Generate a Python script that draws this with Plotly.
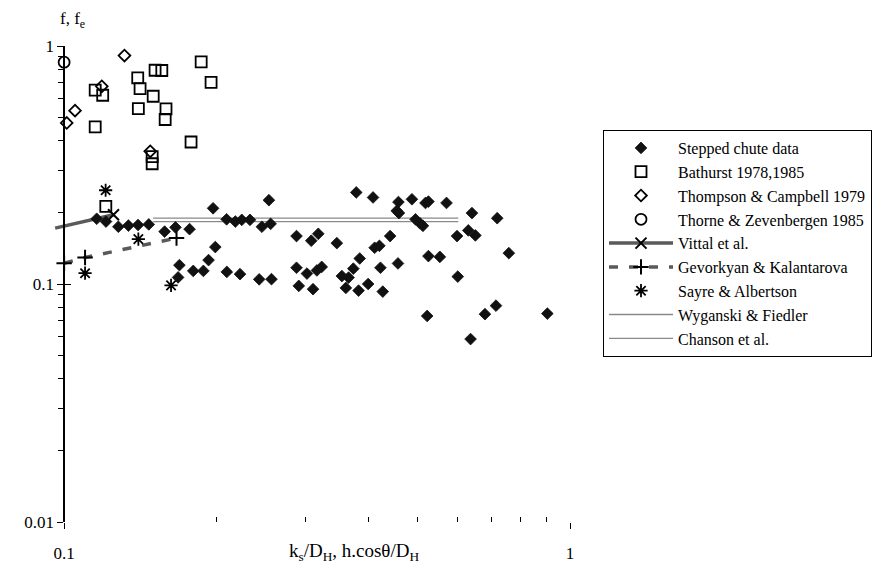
import math
import plotly.graph_objects as go

# ---------------- data ----------------
stepped_x = [0.116, 0.121, 0.128, 0.134, 0.140, 0.147, 0.158, 0.166, 0.177, 0.197,
             0.2095, 0.218, 0.2245, 0.233, 0.246, 0.256, 0.254, 0.288, 0.308, 0.318,
             0.346, 0.378, 0.408, 0.458, 0.4545, 0.459, 0.487, 0.518, 0.525, 0.570,
             0.495, 0.505, 0.512, 0.640, 0.718, 0.441, 0.411, 0.420, 0.598, 0.6295,
             0.650, 0.757, 0.525, 0.553, 0.199, 0.193, 0.1885, 0.180, 0.169, 0.168,
             0.2097, 0.2227, 0.243, 0.257, 0.288, 0.302, 0.316, 0.323, 0.291, 0.3105,
             0.354, 0.365, 0.3605, 0.384, 0.373, 0.382, 0.399, 0.422, 0.457, 0.4265,
             0.600, 0.522, 0.636, 0.679, 0.714, 0.902]
stepped_y = [0.188, 0.183, 0.174, 0.176, 0.177, 0.178, 0.166, 0.173, 0.170, 0.208,
             0.187, 0.183, 0.186, 0.186, 0.174, 0.179, 0.225, 0.159, 0.152, 0.1625,
             0.1485, 0.2425, 0.231, 0.221, 0.203, 0.1986, 0.227, 0.219, 0.222, 0.219,
             0.187, 0.180, 0.1756, 0.1986, 0.189, 0.159, 0.142, 0.1447, 0.159, 0.168,
             0.160, 0.1348, 0.131, 0.130, 0.143, 0.126, 0.1135, 0.1135, 0.120, 0.1066,
             0.1124, 0.110, 0.1046, 0.1048, 0.117, 0.1106, 0.114, 0.118, 0.0982, 0.0951,
             0.108, 0.1064, 0.0963, 0.128, 0.116, 0.0938, 0.100, 0.117, 0.122, 0.0929,
             0.1074, 0.0734, 0.0587, 0.0747, 0.0811, 0.0751]

bathurst_x = [0.1152, 0.1192, 0.1152, 0.1398, 0.1413, 0.1402, 0.1513, 0.156, 0.150,
              0.159, 0.1584, 0.1866, 0.1952, 0.1782, 0.1493, 0.1493, 0.1209]
bathurst_y = [0.652, 0.621, 0.457, 0.735, 0.662, 0.546, 0.791, 0.789, 0.615,
              0.544, 0.491, 0.858, 0.704, 0.395, 0.343, 0.320, 0.2118]

thompson_x = [0.1316, 0.1051, 0.1012, 0.1187, 0.148]
thompson_y = [0.912, 0.535, 0.475, 0.677, 0.361]

thorne_x = [0.1]
thorne_y = [0.855]

vittal_x = [0.096, 0.1252]
vittal_y = [0.1717, 0.1953]

gevorkyan_x = [0.1, 0.110, 0.1668]
gevorkyan_y = [0.1223, 0.1292, 0.1559]

sayre_x = [0.1208, 0.1402, 0.110, 0.1627]
sayre_y = [0.2477, 0.1544, 0.1110, 0.0987]

wyganski_x = [0.150, 0.6015]
wyganski_y = [0.189, 0.189]

chanson_x = [0.150, 0.6015]
chanson_y = [0.183, 0.183]

x_major = [0.1, 1]
x_major_text = ["0.1", "1"]
x_minor = [0.2, 0.3, 0.4, 0.5, 0.6, 0.7, 0.8, 0.9]
y_major = [0.01, 0.1, 1]
y_major_text = ["0.01", "0.1", "1"]
y_minor = [0.02, 0.03, 0.04, 0.05, 0.06, 0.07, 0.08, 0.09,
           0.2, 0.3, 0.4, 0.5, 0.6, 0.7, 0.8, 0.9]

# ---------------- styling ----------------
FONT = "Liberation Serif, Times New Roman, serif"
FS = 17
x_lo = math.log10(0.0955)
x_range = [x_lo, 0]
y_range = [-2, 0]
yaxis_pos = (math.log10(0.1) - x_lo) / (0 - x_lo)

fig = go.Figure()

# lines first (drawn underneath)
fig.add_trace(go.Scatter(x=wyganski_x, y=wyganski_y, mode="lines", name="Wyganski & Fiedler",
                         line=dict(color="#8a8a8a", width=1.3), legendrank=8))
fig.add_trace(go.Scatter(x=chanson_x, y=chanson_y, mode="lines", name="Chanson et al.",
                         line=dict(color="#8a8a8a", width=1.3), legendrank=9))
fig.add_trace(go.Scatter(x=vittal_x, y=vittal_y, mode="lines", showlegend=False,
                         line=dict(color="#5a5a5a", width=3.5), hoverinfo="skip"))
fig.add_trace(go.Scatter(x=vittal_x[1:], y=vittal_y[1:], mode="lines+markers", name="Vittal et al.",
                         line=dict(color="#5a5a5a", width=3.5), legendrank=5,
                         marker=dict(symbol="x-thin-open", size=11, color="black",
                                     line=dict(color="black", width=2))))
fig.add_trace(go.Scatter(x=gevorkyan_x, y=gevorkyan_y, mode="lines+markers",
                         name="Gevorkyan & Kalantarova", legendrank=6,
                         line=dict(color="#5a5a5a", width=3.5, dash="9px,11px"),
                         marker=dict(symbol="cross-thin-open", size=11, color="black",
                                     line=dict(color="black", width=2))))
fig.add_trace(go.Scatter(x=stepped_x, y=stepped_y, mode="markers", name="Stepped chute data",
                         legendrank=1,
                         marker=dict(symbol="diamond", size=9, color="#111111",
                                     line=dict(color="#111111", width=0.8))))
fig.add_trace(go.Scatter(x=bathurst_x, y=bathurst_y, mode="markers", name="Bathurst 1978,1985",
                         legendrank=2,
                         marker=dict(symbol="square-open", size=11, color="black",
                                     line=dict(color="black", width=1.8))))
fig.add_trace(go.Scatter(x=thompson_x, y=thompson_y, mode="markers", name="Thompson & Campbell 1979",
                         legendrank=3,
                         marker=dict(symbol="diamond-open", size=9, color="black",
                                     line=dict(color="black", width=1.8))))
fig.add_trace(go.Scatter(x=thorne_x, y=thorne_y, mode="markers", name="Thorne & Zevenbergen 1985",
                         legendrank=4, cliponaxis=False,
                         marker=dict(symbol="circle-open", size=11, color="black",
                                     line=dict(color="black", width=1.8))))
fig.add_trace(go.Scatter(x=sayre_x, y=sayre_y, mode="markers", name="Sayre & Albertson",
                         legendrank=7,
                         marker=dict(symbol="asterisk-open", size=11, color="black",
                                     line=dict(color="black", width=1.8))))

# helper (empty) traces so the crossing-tick overlay axes get drawn
fig.add_trace(go.Scatter(x=[None], y=[None], xaxis="x2", yaxis="y", showlegend=False))
fig.add_trace(go.Scatter(x=[None], y=[None], xaxis="x", yaxis="y2", showlegend=False))

tickfont = dict(family=FONT, size=FS, color="black")

fig.update_layout(
    width=878, height=567,
    margin=dict(l=54, r=308, t=46, b=45, autoexpand=False),
    paper_bgcolor="white", plot_bgcolor="white",
    font=dict(family=FONT, size=FS, color="black"),
    xaxis=dict(type="log", range=x_range, showgrid=False, zeroline=False, showline=False,
               ticks="inside", ticklen=6, tickwidth=1.2, tickcolor="black",
               tickvals=x_major, ticktext=x_major_text, tickfont=tickfont,
               ticklabelstandoff=19,
               minor=dict(tickvals=x_minor, ticks="inside", ticklen=5, tickwidth=1,
                          tickcolor="black", showgrid=False)),
    xaxis2=dict(type="log", range=x_range, overlaying="x", anchor="y", side="bottom",
                showgrid=False, zeroline=False, showline=False, showticklabels=False,
                ticks="outside", ticklen=6, tickwidth=1.2, tickcolor="black",
                tickvals=x_major),
    yaxis=dict(type="log", range=y_range, anchor="free", position=yaxis_pos,
               showgrid=False, zeroline=False, showline=True, linecolor="black", linewidth=1.5,
               ticks="outside", ticklen=6, tickwidth=1.2, tickcolor="black",
               tickvals=y_major, ticktext=y_major_text, tickfont=tickfont,
               minor=dict(tickvals=y_minor, ticks="outside", ticklen=5, tickwidth=1,
                          tickcolor="black", showgrid=False)),
    yaxis2=dict(type="log", range=y_range, overlaying="y", anchor="free", position=yaxis_pos,
                showgrid=False, zeroline=False, showline=False, showticklabels=False,
                ticks="inside", ticklen=6, tickwidth=1.2, tickcolor="black",
                tickvals=y_major),
    legend=dict(x=(603 - 54) / 516, y=1 - (130 - 46) / 476, xanchor="left", yanchor="top",
                bordercolor="black", borderwidth=1, bgcolor="white",
                font=dict(family=FONT, size=16, color="black"),
                itemwidth=64, tracegroupgap=0),
    shapes=[dict(type="line", xref="x", yref="paper",
                 x0=math.log10(x_major[0]), x1=math.log10(x_major[-1]), y0=0, y1=0,
                 line=dict(color="#333333", width=1.8), layer="above")],
    annotations=[
        dict(text="f, f<sub>e</sub>", xref="paper", yref="paper", x=0.008, y=1.055,
             xanchor="left", yanchor="middle", showarrow=False,
             font=dict(family=FONT, size=FS, color="black")),
        dict(text="k<sub>s</sub>/D<sub>H</sub>, h.cos\u03b8/D<sub>H</sub>", xref="paper", yref="paper",
             x=0.581, y=-0.063, xanchor="center", yanchor="middle", showarrow=False,
             font=dict(family=FONT, size=19, color="black")),
    ],
    showlegend=True,
)

fig.write_html("out.html", config={"displayModeBar": False},
               post_script="document.body.style.margin='0';")
